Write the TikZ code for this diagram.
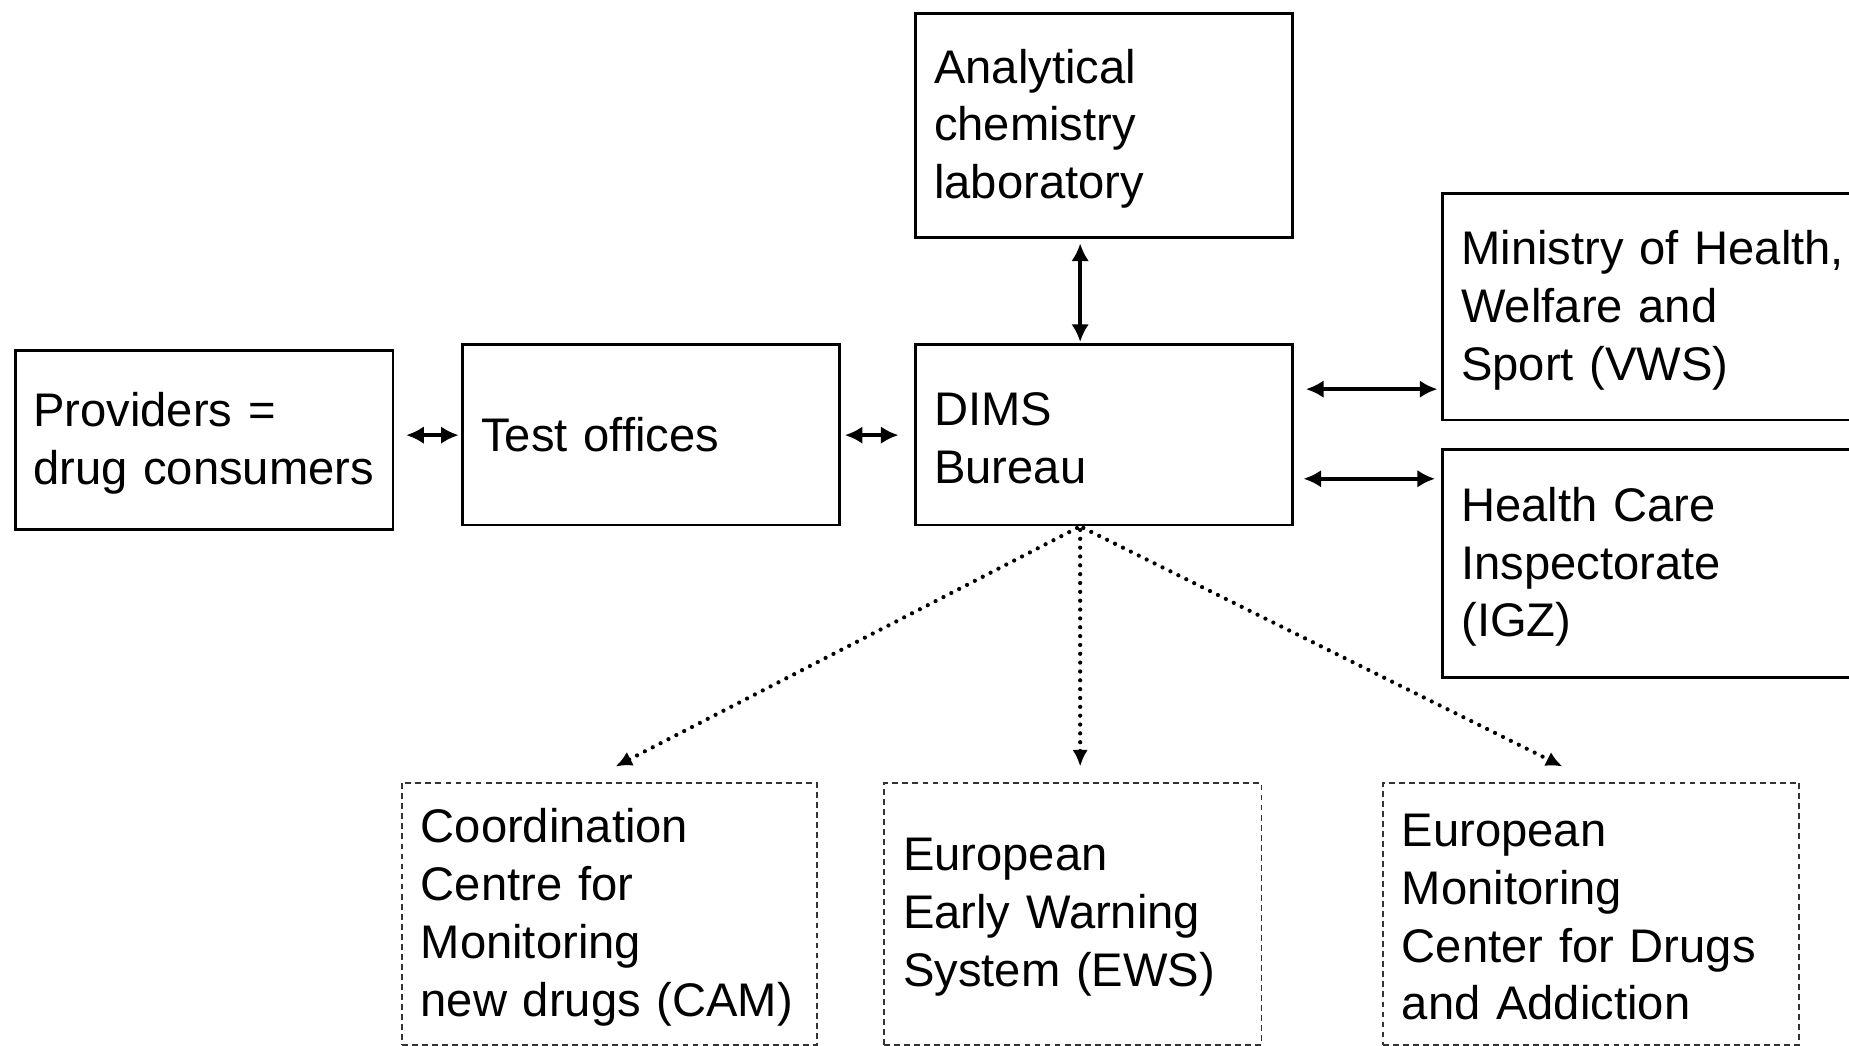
\documentclass[tikz,border=0pt]{standalone}
\usepackage{fontspec}
\setmainfont{Liberation Sans}
\usetikzlibrary{arrows.meta}
\begin{document}
\begin{tikzpicture}[x=1pt,y=-1pt,
  box/.style={draw=black, line width=2.4pt, anchor=north west, inner xsep=16pt, inner ysep=0pt,
    align=left, font=\fontsize{40}{49}\selectfont, execute at end node={\endgraf\vspace*{-6pt}}},
  dbox/.style={box, draw=black!80, line width=1.6pt, dash pattern=on 5pt off 3.5pt},
  dbl/.style={line width=3.4pt, {Latex[length=15pt,width=15pt]}-{Latex[length=15pt,width=15pt]}},
  dotarrow/.style={line width=3.6pt, line cap=round, dash pattern=on 0pt off 7.5pt, -{Latex[length=14pt,width=13pt]}}]
\useasboundingbox (0,0) rectangle (1568,887);
\clip (0,0) rectangle (1568,887);
\fill[white] (0,0) rectangle (1568,887);
% nodes
\node[box, inner xsep=15pt, text width=290pt, minimum height=152pt] (prov) at (12,296) {Providers =\\drug consumers};
\node[box, text width=288pt, minimum height=153pt] (test) at (391,291) {Test offices};
\node[box, text width=288pt, minimum height=153pt] (dims) at (775,291) {DIMS\\Bureau};
\node[box, text width=288pt, minimum height=190pt] (lab) at (775,10) {Analytical\\chemistry\\laboratory};
\node[box, text width=348pt, minimum height=192pt] (vws) at (1222,163) {Ministry of Health,\\Welfare and\\Sport (VWS)};
\node[box, text width=348pt, minimum height=193pt] (igz) at (1222,380) {Health Care\\Inspectorate\\(IGZ)};
\node[dbox, text width=320pt, minimum height=222pt] (cam) at (340,663) {Coordination\\Centre for\\Monitoring\\new drugs (CAM)};
\node[dbox, text width=288pt, minimum height=222pt] (ews) at (749,663) {European\\Early Warning\\System (EWS)};
\node[dbox, text width=321pt, minimum height=222pt] (emc) at (1172,663) {European\\Monitoring\\Center for Drugs\\and Addiction};
% helper coordinates
\coordinate (row) at (0,369);
\coordinate (rvws) at (0,330);
\coordinate (rigz) at (0,406);
\coordinate (col) at (916,0);
\coordinate (camtip) at (522,650);
\coordinate (ewstip) at (916,650);
\coordinate (emctip) at (1325,650);
% connectors
\draw[dbl, shorten <=10pt, shorten >=2pt] (prov.east |- row) -- (test.west |- row);
\draw[dbl, shorten <=3pt, shorten >=13pt] (test.east |- row) -- (dims.west |- row);
\draw[dbl, shorten <=4pt, shorten >=1pt] (lab.south -| col) -- (dims.north -| col);
\draw[dbl, shorten <=10pt, shorten >=3pt] (dims.east |- rvws) -- (vws.west |- rvws);
\draw[dbl, shorten <=8pt, shorten >=5pt] (dims.east |- rigz) -- (igz.west |- rigz);
\draw[dotarrow, shorten <=3pt] (dims.south -| col) -- (camtip);
\draw[dotarrow, shorten <=3pt] (dims.south -| col) -- (ewstip);
\draw[dotarrow, shorten <=3pt] (dims.south -| col) -- (emctip);
\end{tikzpicture}
\end{document}
